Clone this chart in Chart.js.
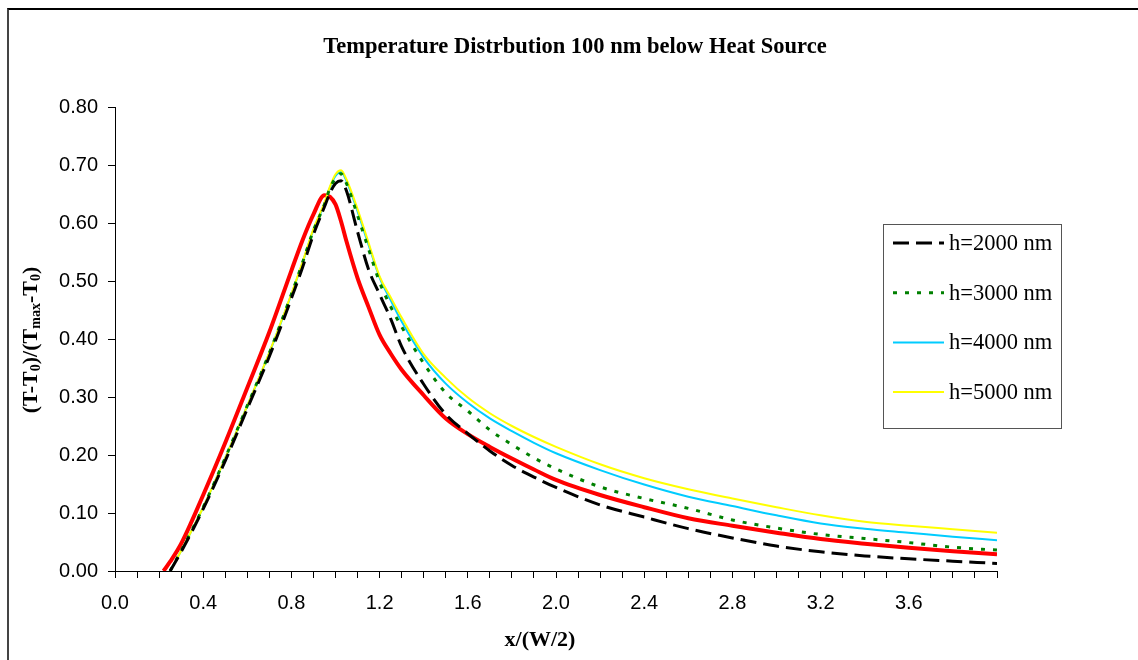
<!DOCTYPE html>
<html lang="en">
<head>
  <meta charset="UTF-8" />
  <title>Temperature Distribution</title>
  <script src="https://cdn.jsdelivr.net/npm/chart.js"></script>
  <style>
    body {
      margin: 0;
      background: #fff;
    }
    .wrap {
      position: relative;
      width: 1138px;
      height: 660px;
      overflow: hidden;
    }
    .frame {
      position: absolute;
      left: 7px;
      top: 8px;
      width: 1200px;
      height: 700px;
      border-left: 2px solid #444;
      border-top: 2px solid #000;
    }
    canvas {
      position: absolute;
      left: 0;
      top: 0;
    }
  </style>
</head>
<body>
  <div class="wrap">
    <div class="frame"></div>
    <canvas id="chart" width="1138" height="660"></canvas>
  </div>

  <script>
    // x positions, x/(W/2)
    const xVals = [0.22, 0.25, 0.3, 0.4, 0.5, 0.6, 0.7, 0.8, 0.85, 0.9, 0.95, 0.975, 1.0, 1.025, 1.05,
      1.1, 1.15, 1.2, 1.25, 1.3, 1.4, 1.5, 1.6, 1.7, 1.8, 1.9, 2.0, 2.2, 2.4, 2.6, 2.8, 3.0, 3.2, 3.4, 3.6, 3.8, 4.0];

    const h2000 = [null, 0, 0.033, 0.107, 0.190, 0.280, 0.370, 0.470, 0.523, 0.580, 0.628, 0.652, 0.668, 0.673, 0.655,
      0.585, 0.520, 0.477, 0.435, 0.387, 0.322, 0.270, 0.237, 0.207, 0.182, 0.162, 0.144, 0.114, 0.093, 0.073, 0.057, 0.043, 0.033, 0.026, 0.021, 0.017, 0.013];
    const h3000 = [null, 0, 0.035, 0.110, 0.195, 0.285, 0.376, 0.477, 0.531, 0.587, 0.632, 0.660, 0.677, 0.685, 0.668,
      0.613, 0.555, 0.498, 0.456, 0.421, 0.358, 0.307, 0.276, 0.243, 0.218, 0.195, 0.176, 0.145, 0.125, 0.108, 0.088, 0.074, 0.063, 0.056, 0.049, 0.041, 0.036];
    const h4000 = [null, 0, 0.035, 0.110, 0.195, 0.285, 0.376, 0.477, 0.531, 0.588, 0.633, 0.661, 0.681, 0.688, 0.672,
      0.620, 0.562, 0.506, 0.467, 0.430, 0.368, 0.323, 0.290, 0.263, 0.241, 0.221, 0.203, 0.174, 0.149, 0.128, 0.112, 0.096, 0.082, 0.073, 0.066, 0.059, 0.053];
    const h5000 = [null, 0, 0.035, 0.110, 0.195, 0.285, 0.377, 0.478, 0.532, 0.590, 0.635, 0.663, 0.684, 0.691, 0.675,
      0.624, 0.566, 0.508, 0.472, 0.437, 0.374, 0.333, 0.299, 0.272, 0.250, 0.231, 0.214, 0.184, 0.160, 0.141, 0.125, 0.110, 0.096, 0.085, 0.078, 0.072, 0.066];
    const redVals = [0, 0.016, 0.047, 0.131, 0.221, 0.316, 0.412, 0.518, 0.570, 0.615, 0.648, 0.645, 0.632, 0.603, 0.568,
      0.505, 0.455, 0.407, 0.375, 0.347, 0.303, 0.263, 0.236, 0.214, 0.194, 0.175, 0.157, 0.131, 0.110, 0.091, 0.078, 0.066, 0.055, 0.047, 0.040, 0.034, 0.029];

    const yTicks = [0, 0.1, 0.2, 0.3, 0.4, 0.5, 0.6, 0.7, 0.8];
    const xLabelStep = 0.4;

    const serif = '"Liberation Serif", "Times New Roman", serif';
    const sans = '"Liberation Sans", Arial, sans-serif';

    function pts(ys) {
      return xVals.map((x, i) => ({ x: x, y: ys[i] }));
    }

    // title, axis titles (y has subscripts) and the boxed legend
    const extras = {
      id: 'extras',
      afterDraw(chart) {
        const ctx = chart.ctx;
        ctx.save();
        ctx.fillStyle = '#000';
        ctx.font = 'bold 22.5px ' + serif;
        ctx.textAlign = 'center';
        ctx.textBaseline = 'middle';
        ctx.fillText('Temperature Distrbution 100 nm below Heat Source', 575, 47);
        ctx.font = 'bold 22px ' + serif;
        ctx.fillText('x/(W/2)', 540, 640);

        // y axis title
        ctx.translate(30, 340);
        ctx.rotate(-Math.PI / 2);
        const parts = [['(T-T', false], ['0', true], [')/(T', false], ['max', true], ['-T', false], ['0', true], [')', false]];
        const big = 'bold 22px ' + serif, small = 'bold 14px ' + serif;
        let total = 0;
        parts.forEach(p => { ctx.font = p[1] ? small : big; total += ctx.measureText(p[0]).width; });
        let px = -total / 2;
        ctx.textAlign = 'left';
        ctx.textBaseline = 'alphabetic';
        parts.forEach(p => {
          ctx.font = p[1] ? small : big;
          ctx.fillText(p[0], px, p[1] ? 10 : 7);
          px += ctx.measureText(p[0]).width;
        });
        ctx.restore();

        // legend
        ctx.save();
        ctx.strokeStyle = '#555';
        ctx.lineWidth = 1;
        ctx.strokeRect(883.5, 224.5, 178, 204);
        let ly = 243;
        chart.data.datasets.forEach(ds => {
          if (!ds.label) return;
          ctx.beginPath();
          ctx.strokeStyle = ds.borderColor;
          ctx.lineWidth = ds.borderWidth;
          ctx.setLineDash(ds.borderDash || []);
          ctx.moveTo(893, ly);
          ctx.lineTo(944, ly);
          ctx.stroke();
          ctx.setLineDash([]);
          ctx.fillStyle = '#000';
          ctx.font = '22.5px ' + serif;
          ctx.textBaseline = 'middle';
          ctx.fillText(ds.label, 949, ly + 1);
          ly += 49.7;
        });
        ctx.restore();
      }
    };

    const common = { pointRadius: 0, fill: false, cubicInterpolationMode: 'monotone', spanGaps: false };

    new Chart(document.getElementById('chart'), {
      type: 'line',
      data: {
        datasets: [
          Object.assign({ label: 'h=2000 nm', data: pts(h2000), borderColor: '#000000', borderWidth: 3, borderDash: [16, 7], order: 0 }, common),
          Object.assign({ label: 'h=3000 nm', data: pts(h3000), borderColor: '#008000', borderWidth: 3, borderDash: [4, 8], order: 1 }, common),
          Object.assign({ label: 'h=4000 nm', data: pts(h4000), borderColor: '#00CCFF', borderWidth: 2, order: 3 }, common),
          Object.assign({ label: 'h=5000 nm', data: pts(h5000), borderColor: '#FFFF00', borderWidth: 2, order: 2 }, common),
          Object.assign({ label: '', data: pts(redVals), borderColor: '#FF0000', borderWidth: 4, order: 4 }, common)
        ]
      },
      options: {
        responsive: false,
        animation: false,
        layout: { padding: { top: 107, right: 141, left: 0, bottom: 0 } },
        plugins: {
          legend: { display: false },
          tooltip: { enabled: false }
        },
        scales: {
          x: {
            type: 'linear',
            min: 0,
            max: 4,
            afterFit(scale) { scale.height = 89; },
            afterBuildTicks(scale) {
              scale.ticks = [];
              for (let i = 0; i <= 40; i++) scale.ticks.push({ value: i / 10 });
            },
            grid: { drawOnChartArea: false, drawTicks: true, tickLength: 7, tickColor: '#000' },
            border: { display: true, color: '#000', width: 1 },
            ticks: {
              autoSkip: false,
              maxRotation: 0,
              padding: 13,
              color: '#000',
              font: { family: sans, size: 20 },
              callback(v) {
                const k = Math.round(v * 10);
                if (k % Math.round(xLabelStep * 10) !== 0 || k >= 40) return '';
                return v.toFixed(1);
              }
            }
          },
          y: {
            min: 0,
            max: 0.8,
            afterFit(scale) { scale.width = 115; },
            afterBuildTicks(scale) {
              scale.ticks = yTicks.map(v => ({ value: v }));
            },
            grid: { drawOnChartArea: false, drawTicks: true, tickLength: 7, tickColor: '#000' },
            border: { display: true, color: '#000', width: 1 },
            ticks: {
              padding: 10,
              color: '#000',
              font: { family: sans, size: 20 },
              callback(v) { return v.toFixed(2); }
            }
          }
        }
      },
      plugins: [extras]
    });
  </script>
</body>
</html>
